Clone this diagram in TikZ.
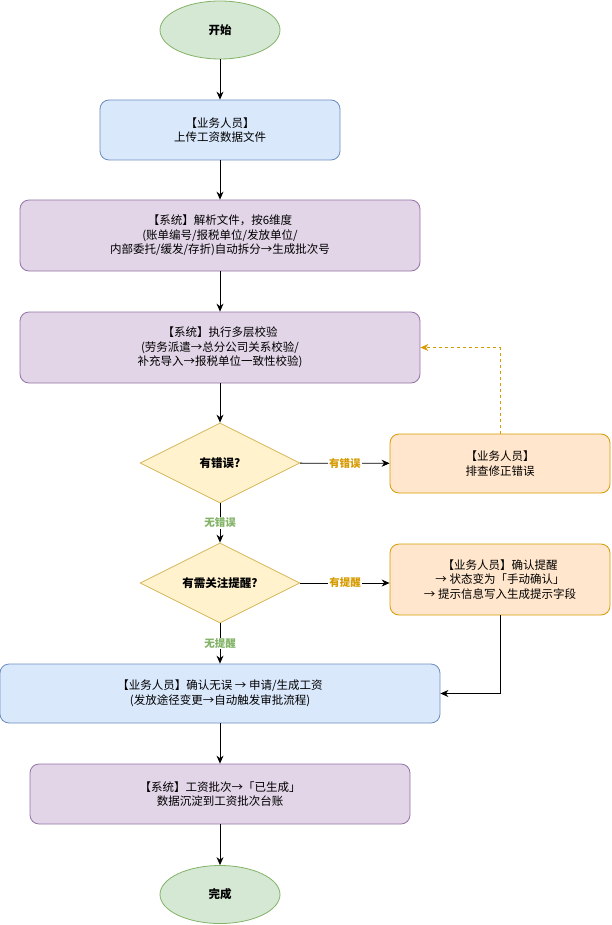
\documentclass[tikz,border=0pt]{standalone}
\usepackage{fontspec}
\setmainfont{Noto Sans CJK SC}
\usetikzlibrary{shapes.geometric,arrows.meta}
\definecolor{gfill}{HTML}{D5E8D4}\definecolor{gline}{HTML}{82B366}
\definecolor{bfill}{HTML}{DAE8FC}\definecolor{bline}{HTML}{6C8EBF}
\definecolor{pfill}{HTML}{E1D5E7}\definecolor{pline}{HTML}{9673A6}
\definecolor{yfill}{HTML}{FFF2CC}\definecolor{yline}{HTML}{D6B656}
\definecolor{ofill}{HTML}{FFE6CC}\definecolor{oline}{HTML}{D79B00}
\definecolor{olabel}{HTML}{D79B00}
\begin{document}
\begin{tikzpicture}[x=1pt,y=-1pt,
  every node/.style={font=\fontsize{11.5}{14.5}\selectfont, align=center, inner sep=0pt},
  term/.style={ellipse, draw=gline, fill=gfill, line width=0.8pt, minimum width=120pt, minimum height=58pt, font=\fontsize{11.5}{14.5}\selectfont\bfseries},
  bluebox/.style={rectangle, rounded corners=9pt, draw=bline, fill=bfill, line width=0.8pt},
  purplebox/.style={rectangle, rounded corners=9pt, draw=pline, fill=pfill, line width=0.8pt},
  orangebox/.style={rectangle, rounded corners=9pt, draw=oline, fill=ofill, line width=0.8pt},
  decision/.style={diamond, aspect=2, draw=yline, fill=yfill, line width=0.8pt, minimum width=160pt, minimum height=80pt, font=\fontsize{11.5}{14.5}\selectfont\bfseries},
  conn/.style={line width=0.8pt, -{Stealth[length=8pt,width=7pt]}},
  dconn/.style={line width=0.8pt, draw=oline, dashed, -{Stealth[length=8pt,width=7pt]}},
  lab/.style={fill=white, inner sep=1pt, font=\fontsize{10.5}{12}\selectfont\bfseries}
]
\useasboundingbox (0,0) rectangle (611,925);

\node[term] (start) at (220,30) {开始};
\node[bluebox, minimum width=240pt, minimum height=60pt] (up) at (220,130) {【业务人员】\\上传工资数据文件};
\node[purplebox, minimum width=400pt, minimum height=71pt] (parse) at (220,235.5) {【系统】解析文件，按6维度\\(账单编号/报税单位/发放单位/\\内部委托/缓发/存折)自动拆分→生成批次号};
\node[purplebox, minimum width=400pt, minimum height=71pt] (check) at (220,347.5) {【系统】执行多层校验\\(劳务派遣→总分公司关系校验/\\补充导入→报税单位一致性校验)};
\node[decision] (err) at (220,463) {有错误?};
\node[orangebox, minimum width=220pt, minimum height=59pt] (fix) at (500,463.5) {【业务人员】\\排查修正错误};
\node[decision] (warn) at (220,583) {有需关注提醒?};
\node[orangebox, minimum width=220pt, minimum height=71pt] (ack) at (500,579.5) {【业务人员】确认提醒\\→ 状态变为「手动确认」\\→ 提示信息写入生成提示字段};
\node[bluebox, minimum width=440pt, minimum height=59pt] (apply) at (220,693.5) {【业务人员】确认无误 → 申请/生成工资\\(发放途径变更→自动触发审批流程)};
\node[purplebox, minimum width=380pt, minimum height=60pt] (done) at (220,794) {【系统】工资批次→「已生成」\\数据沉淀到工资批次台账};
\node[term] (end) at (220,894.5) {完成};

\draw[conn] (start) -- (up);
\draw[conn] (up) -- (parse);
\draw[conn] (parse) -- (check);
\draw[conn] (check) -- (err);
\draw[conn] (err) -- node[lab, text=olabel] (l1) {有错误} (fix);
\draw[dconn] (fix.north) |- (check.east);
\draw[conn] (err) -- node[lab, text=gline] (l2) {无错误} (warn);
\draw[conn] (warn.east) -- node[lab, text=olabel] (l3) {有提醒} (ack.west |- warn.east);
\draw[conn] (warn) -- node[lab, text=gline] (l4) {无提醒} (apply);
\draw[conn] (ack.south) |- (apply.east);
\draw[conn] (apply.south -| done.north) -- (done);
\draw[conn] (done) -- (end);
\end{tikzpicture}
\end{document}
